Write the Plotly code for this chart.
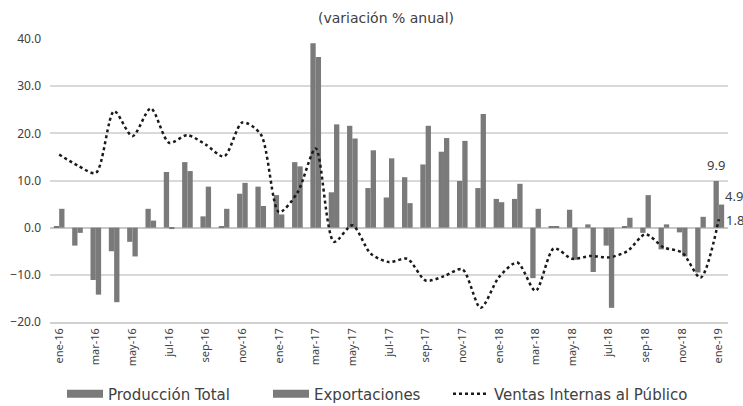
import plotly.graph_objects as go

months = ['ene', 'feb', 'mar', 'abr', 'may', 'jun', 'jul', 'ago', 'sep', 'oct', 'nov', 'dic']
categories = [f"{m}-{y}" for y in ('16', '17', '18') for m in months] + ['ene-19']
tick_labels = categories[::2]

produccion = [0.3, -3.8, -11.1, -5.0, -3.0, 4.0, 11.8, 13.9, 2.4, 0.2, 7.2, 8.7,
              6.9, 13.9, 39.1, 7.5, 21.6, 8.4, 6.4, 10.7, 13.4, 16.1, 9.9, 8.4,
              6.1, 6.1, -10.7, 0.3, 3.8, 0.7, -3.8, 0.3, -1.1, -4.6, -1.0, -9.5,
              9.9]
exportaciones = [4.0, -1.1, -14.2, -15.8, -6.1, 1.5, -0.3, 12.0, 8.7, 4.0, 9.5, 4.6,
                 2.8, 13.0, 36.2, 21.9, 18.9, 16.4, 14.7, 5.2, 21.6, 19.0, 18.4, 24.1,
                 5.4, 9.3, 4.0, 0.3, -6.8, -9.4, -17.0, 2.1, 6.9, 0.7, -6.1, 2.3,
                 4.9]
ventas = [15.5, 13.2, 11.6, 24.7, 19.4, 25.3, 18.0, 19.6, 17.6, 15.1, 22.3, 19.8,
          3.3, 7.4, 16.8, -3.0, 0.5, -5.5, -7.3, -6.6, -11.2, -10.3, -8.8, -17.0,
          -10.5, -7.4, -13.4, -4.4, -6.6, -6.0, -6.3, -5.0, -1.4, -4.2, -5.3, -10.6,
          1.8]

FONT = "Noto Sans"
WIDE = "DejaVu Sans"
TXT = "#404040"
BAR = "#7a7a7a"
LINE = "#1a1a1a"

fig = go.Figure()
fig.add_trace(go.Bar(x=categories, y=produccion, name="Producción Total",
                     marker=dict(color=BAR, line=dict(width=0)), showlegend=False))
fig.add_trace(go.Bar(x=categories, y=exportaciones, name="Exportaciones",
                     marker=dict(color=BAR, line=dict(width=0)), showlegend=False))
fig.add_trace(go.Scatter(x=categories, y=ventas, name="Ventas Internas al Público",
                         mode="lines", showlegend=False,
                         line=dict(color=LINE, width=2.5, dash="dot",
                                   shape="spline", smoothing=0.8)))

# legend entries (wide bar-like keys as in the reference)
fig.add_trace(go.Scatter(x=[None], y=[None], mode="lines", name="Producción Total",
                         line=dict(color=BAR, width=8), legend="legend"))
fig.add_trace(go.Scatter(x=[None], y=[None], mode="lines", name="Exportaciones",
                         line=dict(color=BAR, width=8), legend="legend2"))
fig.add_trace(go.Scatter(x=[None], y=[None], mode="lines", name="Ventas Internas al Público",
                         line=dict(color=LINE, width=2.5, dash="dot"), legend="legend3"))

# data labels for last month
fig.add_annotation(x=categories[-1], y=produccion[-1], text=f"{produccion[-1]:.1f}",
                   showarrow=False, yanchor="bottom", xshift=-3, yshift=5,
                   font=dict(family=FONT, size=13, color=TXT))
fig.add_annotation(x=categories[-1], y=exportaciones[-1], text=f"{exportaciones[-1]:.1f}",
                   showarrow=False, xanchor="left", xshift=4, yshift=9,
                   font=dict(family=FONT, size=13, color=TXT))
fig.add_annotation(x=categories[-1], y=ventas[-1], text=f"{ventas[-1]:.1f}",
                   showarrow=False, xanchor="left", xshift=5, yshift=-1,
                   font=dict(family=FONT, size=13, color=TXT))

n = len(categories)
leg_common = dict(orientation="h", xref="container", yref="container",
                  y=1 - 394 / 406, yanchor="middle", xanchor="left",
                  font=dict(family=WIDE, size=15, color=TXT), itemwidth=36,
                  bgcolor="rgba(0,0,0,0)")
fig.update_layout(
    width=743, height=406,
    margin=dict(l=50, r=15, t=39, b=84, autoexpand=False),
    paper_bgcolor="white", plot_bgcolor="white",
    barmode="group", bargap=0.42, bargroupgap=0,
    font=dict(family=FONT, color=TXT, size=12),
    title=dict(text="(variación % anual)", x=386 / 743, xanchor="center", xref="container",
               y=1 - 18 / 406, yanchor="middle", yref="container",
               font=dict(family=WIDE, size=14, color=TXT)),
    legend=dict(leg_common, x=62 / 743),
    legend2=dict(leg_common, x=268 / 743),
    legend3=dict(leg_common, x=448 / 743),
    xaxis=dict(type="category", tickvals=tick_labels, ticktext=tick_labels,
               tickangle=-90, ticks="", showgrid=False, automargin=False,
               showline=True, linecolor="#d0d0d0", linewidth=1.5,
               tickfont=dict(family=FONT, size=11, color=TXT),
               range=[-0.5, n - 0.5]),
    xaxis2=dict(overlaying="x", anchor="free", position=1 / 3, automargin=False,
                range=[-0.5, n - 0.5], showgrid=False, zeroline=False,
                showticklabels=False, ticks="outside", ticklen=4, tickwidth=1,
                tickcolor="#c8c8c8",
                tickvals=[i - 0.5 for i in range(0, n, 2)]),
    yaxis=dict(range=[-20, 40], dtick=10, tickformat=".1f", automargin=False,
               showgrid=True, gridcolor="#d9d9d9", gridwidth=1.5,
               zeroline=True, zerolinecolor="#c8c8c8", zerolinewidth=1.5,
               ticks="", ticklabelstandoff=8,
               tickfont=dict(family=FONT, size=12, color=TXT)),
)

fig.write_html("out.html", config={"displayModeBar": False},
               post_script="document.body.style.margin='0';")
